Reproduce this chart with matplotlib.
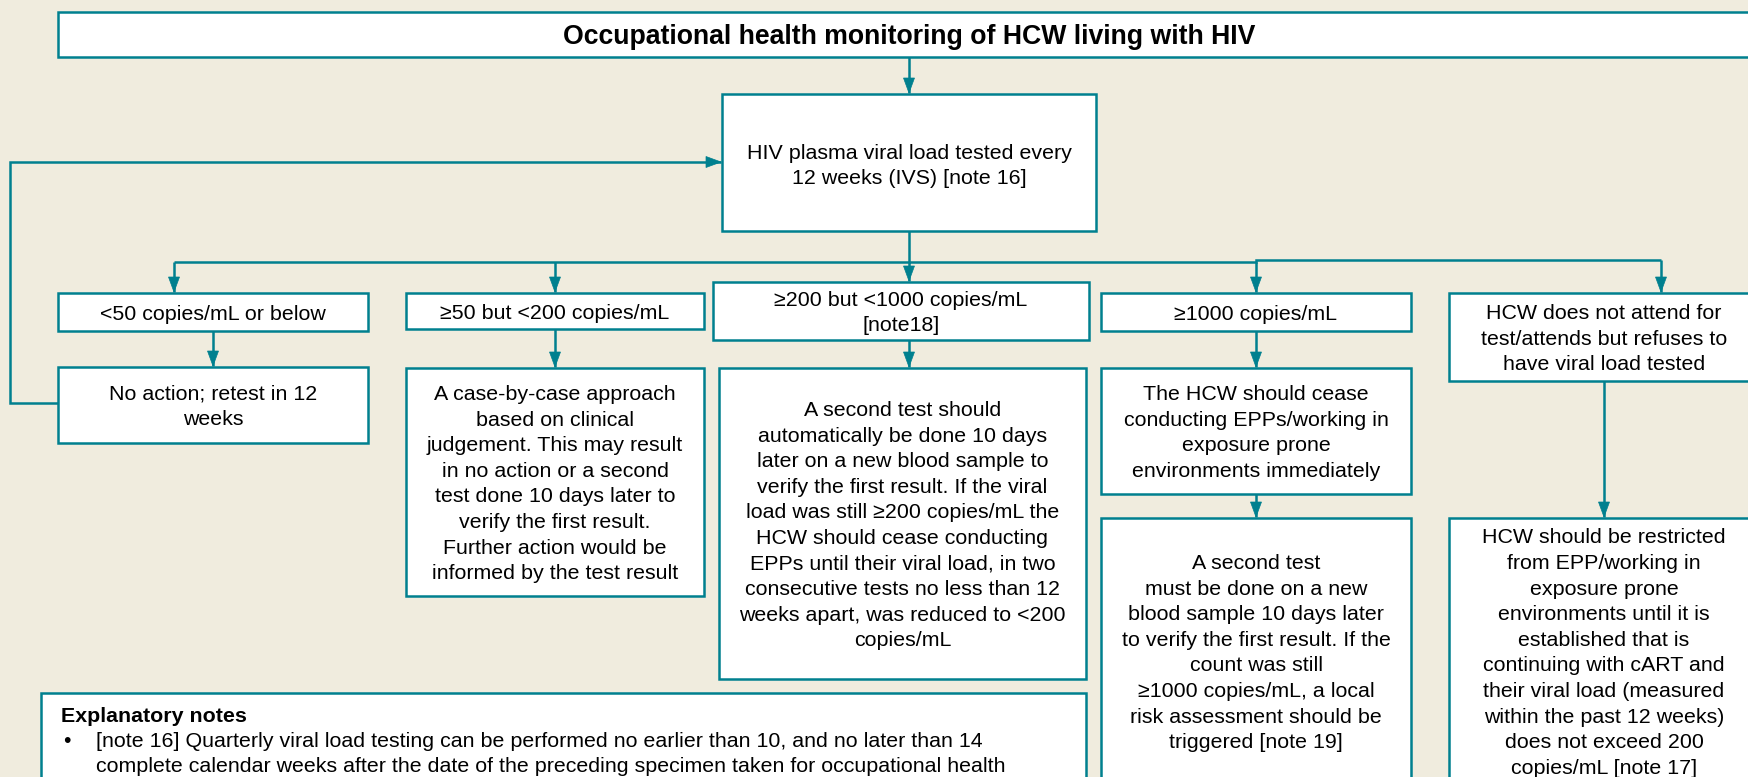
import matplotlib
matplotlib.use('Agg')
import matplotlib.pyplot as plt
from matplotlib.patches import Rectangle, Polygon

# 文本内容
title_text = 'Occupational health monitoring of HCW living with HIV'
test_text = ['HIV plasma viral load tested every', '12 weeks (IVS) [note 16]']
band_texts = [
    ['<50 copies/mL or below'],
    ['\u226550 but <200 copies/mL'],
    ['\u2265200 but <1000 copies/mL', '[note18]'],
    ['\u22651000 copies/mL'],
    ['HCW does not attend for', 'test/attends but refuses to', 'have viral load tested'],
]
action_texts = [
    ['No action; retest in 12', 'weeks'],
    ['A case-by-case approach', 'based on clinical', 'judgement. This may result',
     'in no action or a second', 'test done 10 days later to', 'verify the first result.',
     'Further action would be', 'informed by the test result'],
    ['A second test should', 'automatically be done 10 days', 'later on a new blood sample to',
     'verify the first result. If the viral', 'load was still \u2265200 copies/mL the',
     'HCW should cease conducting', 'EPPs until their viral load, in two',
     'consecutive tests no less than 12', 'weeks apart, was reduced to <200', 'copies/mL'],
    ['The HCW should cease', 'conducting EPPs/working in', 'exposure prone',
     'environments immediately'],
]
followup_texts = [
    ['A second test', 'must be done on a new', 'blood sample 10 days later',
     'to verify the first result. If the', 'count was still', '\u22651000 copies/mL, a local',
     'risk assessment should be', 'triggered [note 19]'],
    ['HCW should be restricted', 'from EPP/working in', 'exposure prone',
     'environments until it is', 'established that is', 'continuing with cART and',
     'their viral load (measured', 'within the past 12 weeks)', 'does not exceed 200',
     'copies/mL [note 17]'],
]
notes_title = 'Explanatory notes'
notes_lines = [
    '[note 16] Quarterly viral load testing can be performed no earlier than 10, and no later than 14',
    'complete calendar weeks after the date of the preceding specimen taken for occupational health',
]

BG = '#f0ecde'
TEAL = '#00808f'
FONT = 'Liberation Sans'
FS = 15.4
LINE_H = 25.6
CAP_HALF = 0.716 * FS * 100 / 72 / 2  # 大写字母高度的一半（像素）

W, H = 1748, 777
fig = plt.figure(figsize=(W / 100, H / 100), dpi=100, facecolor=BG)
ax = fig.add_axes([0, 0, 1, 1])
ax.set_xlim(0, W)
ax.set_ylim(H, 0)
ax.axis('off')
ax.set_facecolor(BG)


def box(x0, y0, x1, y1):
    ax.add_patch(Rectangle((x0, y0), x1 - x0, y1 - y0, facecolor='white',
                           edgecolor=TEAL, lw=1.8, zorder=2))


def lines_in(xc, yc, lines, fs=FS, weight='normal'):
    n = len(lines)
    for i, s in enumerate(lines):
        y = yc + (i - (n - 1) / 2) * LINE_H + CAP_HALF
        ax.text(xc, y, s, ha='center', va='baseline', fontsize=fs, family=FONT,
                fontweight=weight, zorder=3)


def path(pts, arrow=True):
    xs = [p[0] for p in pts]
    ys = [p[1] for p in pts]
    ax.plot(xs, ys, color=TEAL, lw=1.8, solid_capstyle='butt',
            solid_joinstyle='miter', zorder=1)
    if arrow:
        (xa, ya), (xb, yb) = pts[-2], pts[-1]
        L, hw = 15, 5.5
        if xa == xb:
            d = 1 if yb > ya else -1
            tri = [(xb, yb), (xb - hw, yb - d * L), (xb + hw, yb - d * L)]
        else:
            d = 1 if xb > xa else -1
            tri = [(xb, yb), (xb - d * L, yb - hw), (xb - d * L, yb + hw)]
        ax.add_patch(Polygon(tri, closed=True, facecolor=TEAL, edgecolor=TEAL,
                             lw=0.5, zorder=1))


# 标题
box(58, 12, 1760, 57)
ax.text(909, 34.5 + 0.716 * 19.2 * 100 / 72 / 2, title_text, ha='center', va='baseline',
        fontsize=19.2, family=FONT, fontweight='bold', zorder=3)

# 检测框
box(722, 94, 1096, 231)
lines_in(909, 164, test_text)
path([(909, 57), (909, 93)])

# 分支
path([(909, 231), (909, 262), (174, 262)], arrow=False)
path([(909, 262), (1256, 262), (1256, 260), (1661, 260)], arrow=False)
band_boxes = [(58, 293, 368, 331), (406, 293, 704, 329), (713, 282, 1089, 340),
              (1101, 293, 1411, 331), (1449, 293, 1760, 381)]
band_x = [174, 555, 909, 1256, 1661]
band_top_y = [262, 262, 262, 262, 260]
band_text_x = [213, 555, 901, 1256, 1604]
for (x0, y0, x1, y1), bx, by, tx, lines in zip(band_boxes, band_x, band_top_y,
                                              band_text_x, band_texts):
    path([(bx, by), (bx, y0 - 1)])
    box(x0, y0, x1, y1)
    lines_in(tx, (y0 + y1) / 2, lines)

# 处理框
action_boxes = [(58, 367, 368, 443), (406, 368, 704, 596), (719, 368, 1086, 679),
                (1101, 368, 1411, 494)]
arrow_x = [213, 555, 909, 1256]
for (x0, y0, x1, y1), (bx0, by0, bx1, by1), axx, lines in zip(action_boxes, band_boxes,
                                                              arrow_x, action_texts):
    path([(axx, by1), (axx, y0 - 1)])
    box(x0, y0, x1, y1)
    lines_in((x0 + x1) / 2, (y0 + y1) / 2, lines)

# 回路
path([(58, 403), (10, 403), (10, 162), (721, 162)])

# 后续框
path([(1256, 494), (1256, 517)])
box(1101, 518, 1411, 790)
lines_in(1256, 651, followup_texts[0])
path([(1604, 381), (1604, 517)])
box(1449, 518, 1760, 790)
lines_in(1604, 651, followup_texts[1])

# 说明
box(41, 693, 1086, 800)
ax.text(61, 721.7, notes_title, ha='left', va='baseline', fontsize=FS, family=FONT,
        fontweight='bold', zorder=3)
ax.text(63, 746.7, '\u2022', ha='left', va='baseline', fontsize=FS, family=FONT, zorder=3)
for i, s in enumerate(notes_lines):
    ax.text(96.5, 746.7 + i * 25, s, ha='left', va='baseline', fontsize=FS, family=FONT,
            zorder=3)

fig.savefig('out.png', dpi=100, facecolor=BG)
